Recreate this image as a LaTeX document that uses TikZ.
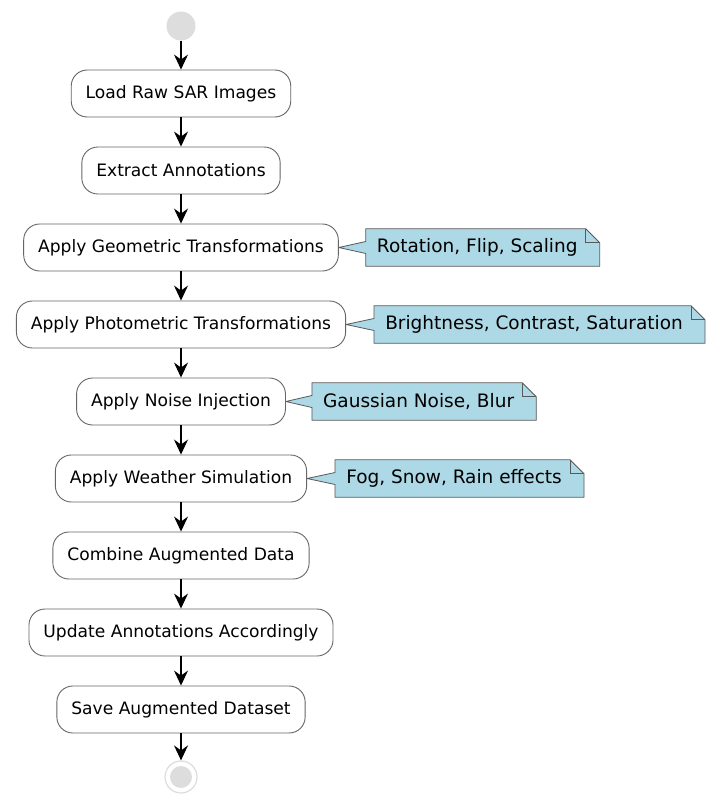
\documentclass[tikz,border=0pt]{standalone}
\usepackage{fontspec}
\setmainfont{DejaVu Sans}
\usetikzlibrary{arrows.meta,backgrounds}
\definecolor{notefill}{HTML}{ADD8E6}
\definecolor{startgray}{HTML}{DDDDDD}
\newcommand{\notebox}[2]{%
  \begin{scope}[on background layer]
    \draw[draw=black!65, fill=notefill, line width=0.8pt, line join=miter]
      (#1.north west) -- ([xshift=-14pt]#1.north east) -- ([yshift=-14pt]#1.north east)
      -- (#1.south east) -- (#1.south west) -- ([yshift=-6pt]#1.west) -- (#2.east)
      -- ([yshift=6pt]#1.west) -- cycle;
    \draw[draw=black!65, line width=0.8pt]
      ([xshift=-14pt]#1.north east) |- ([yshift=-14pt]#1.north east);
  \end{scope}}
\begin{document}
\begin{tikzpicture}[x=1pt,y=-1pt,
  act/.style={draw=black!60, line width=0.9pt, fill=white, rounded corners=16pt,
    minimum height=47pt, inner xsep=14.5pt, font=\fontsize{17.1}{20}\selectfont},
  notetxt/.style={inner xsep=11pt, inner ysep=0pt, minimum height=37pt,
    font=\fontsize{18.5}{22}\selectfont, anchor=west, execute at end node={\hspace*{11pt}}},
  flow/.style={-{Stealth[length=15pt,width=14pt,inset=5pt]}, line width=1.3pt},
]
\useasboundingbox (0,0) rectangle (719,808);
\begin{scope}[on background layer]
  \fill[white] (0,0) rectangle (719,808);
\end{scope}

\node[circle, fill=startgray, minimum size=29pt, inner sep=0pt] (start) at (181,26) {};

\node[act] (b1) at (181,93.5)  {Load Raw SAR Images};
\node[act] (b2) at (181,170.5) {Extract Annotations};
\node[act] (b3) at (181,247.5) {Apply Geometric Transformations};
\node[act] (b4) at (181,324.5) {Apply Photometric Transformations};
\node[act] (b5) at (181,401.5) {Apply Noise Injection};
\node[act] (b6) at (181,478.5) {Apply Weather Simulation};
\node[act] (b7) at (181,555.5) {Combine Augmented Data};
\node[act] (b8) at (181,632.5) {Update Annotations Accordingly};
\node[act] (b9) at (181,709.5) {Save Augmented Dataset};

\node[circle, draw=startgray, line width=1.2pt, minimum size=32pt, inner sep=0pt] (end) at (181,777) {};
\node[circle, fill=startgray, minimum size=22pt, inner sep=0pt] (endin) at (end.center) {};

\node[notetxt] (n1) at ([xshift=27pt]b3.east) {Rotation, Flip, Scaling};
\node[notetxt] (n2) at ([xshift=28pt]b4.east) {Brightness, Contrast, Saturation};
\node[notetxt] (n3) at ([xshift=26pt]b5.east) {Gaussian Noise, Blur};
\node[notetxt] (n4) at ([xshift=28pt]b6.east) {Fog, Snow, Rain effects};
\notebox{n1}{b3}
\notebox{n2}{b4}
\notebox{n3}{b5}
\notebox{n4}{b6}

\draw[flow] (start) -- (b1);
\draw[flow] (b1) -- (b2);
\draw[flow] (b2) -- (b3);
\draw[flow] (b3) -- (b4);
\draw[flow] (b4) -- (b5);
\draw[flow] (b5) -- (b6);
\draw[flow] (b6) -- (b7);
\draw[flow] (b7) -- (b8);
\draw[flow] (b8) -- (b9);
\draw[flow] (b9) -- (end);
\end{tikzpicture}
\end{document}
